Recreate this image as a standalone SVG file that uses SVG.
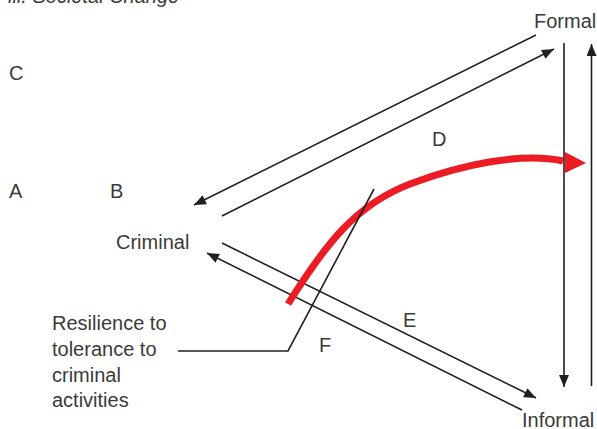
<svg xmlns="http://www.w3.org/2000/svg" width="597" height="429" viewBox="0 0 597 429">
<style>
text{font-family:"Liberation Sans",Arial,sans-serif;font-size:20px;fill:#3a3a3a}
.ln{stroke:#231f20;stroke-width:1.6;fill:none}
.ar{marker-end:url(#ah)}
</style>
<defs>
<marker id="ah" viewBox="0 0 12 10" refX="12" refY="5" markerWidth="13" markerHeight="10" markerUnits="userSpaceOnUse" orient="auto">
<path d="M0,0 L12,5 L0,10 Z" fill="#231f20"/>
</marker>
</defs>
<rect width="597" height="429" fill="#fff"/>
<text x="8" y="3" font-style="italic">iii. Societal Change</text>
<g id="connectors">
<line class="ln ar" x1="536" y1="35" x2="194" y2="205"/>
<line class="ln ar" x1="222" y1="216" x2="554" y2="49"/>
<line class="ln ar" x1="222" y1="243" x2="536" y2="398"/>
<line class="ln ar" x1="522" y1="410" x2="207" y2="253"/>
<g id="red-arrow">
<path d="M288,304 C325,245 355,205 410,184 C460,165 520,152 563,161" stroke="#ed1c24" stroke-width="7" fill="none"/>
<polygon points="565,152 586,163 565,173" fill="#ed1c24"/>
</g>
<line class="ln ar" x1="564" y1="43" x2="564" y2="387"/>
<line class="ln ar" x1="591.5" y1="386" x2="591.5" y2="44"/>
<polyline class="ln" points="374,189 288,351 178,351"/>
</g>
<g id="node-formal"><text x="534" y="28">Formal</text></g>
<g id="node-informal"><text x="522" y="427">Informal</text></g>
<g id="node-criminal"><text x="116" y="249">Criminal</text></g>
<g id="label-a"><text x="9" y="198">A</text></g>
<g id="label-b"><text x="110" y="198">B</text></g>
<g id="label-c"><text x="9" y="80">C</text></g>
<g id="label-d"><text x="432" y="146">D</text></g>
<g id="label-e"><text x="403" y="327">E</text></g>
<g id="label-f"><text x="319" y="352">F</text></g>
<g id="label-resilience">
<text x="52" y="330">Resilience to</text>
<text x="52" y="356">tolerance to</text>
<text x="52" y="382">criminal</text>
<text x="52" y="407">activities</text>
</g>
</svg>
